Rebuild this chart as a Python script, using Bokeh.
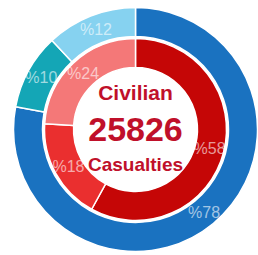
import numpy as np
from bokeh.plotting import figure
from bokeh.models import ColumnDataSource, Range1d
from bokeh.core.properties import value
from bokeh.embed import file_html
from bokeh.resources import INLINE

# ---- data ----
outer_labels = ["%78", "%10", "%12"]
outer_values = [78, 10, 12]
outer_colors = ["#1a72c0", "#14a6b6", "#86d2f0"]

inner_labels = ["%58", "%18", "%24"]
inner_values = [58, 18, 24]
inner_colors = ["#c50606", "#ea2f2f", "#f47878"]

center_lines = ["Civilian", "25826", "Casualties"]

W, H = 258, 255
cx, cy = 135, 126
R_out_in, R_out_out = 93, 122
R_in_in, R_in_out = 62, 91


def ring(values, labels, colors, r_in, r_out):
    v = np.array(values, dtype=float)
    frac = v / v.sum()
    cum = np.concatenate([[0], np.cumsum(frac)])
    start = np.pi / 2 - cum[:-1] * 2 * np.pi
    end = np.pi / 2 - cum[1:] * 2 * np.pi
    mid = (start + end) / 2
    rm = (r_in + r_out) / 2
    return ColumnDataSource(dict(
        start=start, end=end, color=colors, label=labels,
        lx=cx + rm * np.cos(mid), ly=cy + rm * np.sin(mid),
    ))


p = figure(width=W, height=H, output_backend="svg", toolbar_location=None,
           x_range=Range1d(0, W), y_range=Range1d(0, H), min_border=0)
p.axis.visible = False
p.grid.visible = False
p.outline_line_color = None
p.background_fill_color = "white"

so = ring(outer_values, outer_labels, outer_colors, R_out_in, R_out_out)
si = ring(inner_values, inner_labels, inner_colors, R_in_in, R_in_out)

for src, ri, ro in [(so, R_out_in, R_out_out), (si, R_in_in, R_in_out)]:
    p.annular_wedge(x=cx, y=cy, inner_radius=ri, outer_radius=ro,
                    start_angle="end", end_angle="start", source=src,
                    fill_color="color", line_color="white", line_width=1.5)
    p.text(x="lx", y="ly", text="label", source=src,
           text_font=value("Liberation Sans"), text_font_size="16px",
           text_color="white", text_alpha=0.6,
           text_align="center", text_baseline="middle")

sizes = ["21px", "34px", "19px"]
offsets = [37, 0, -35]
for t, s, o in zip(center_lines, sizes, offsets):
    p.text(x=[cx], y=[cy + o], text=[t], text_font=value("Liberation Sans"),
           text_font_style="bold", text_font_size=s, text_color="#c0102a",
           text_align="center", text_baseline="middle")

open("out.html", "w").write(file_html(p, INLINE))
